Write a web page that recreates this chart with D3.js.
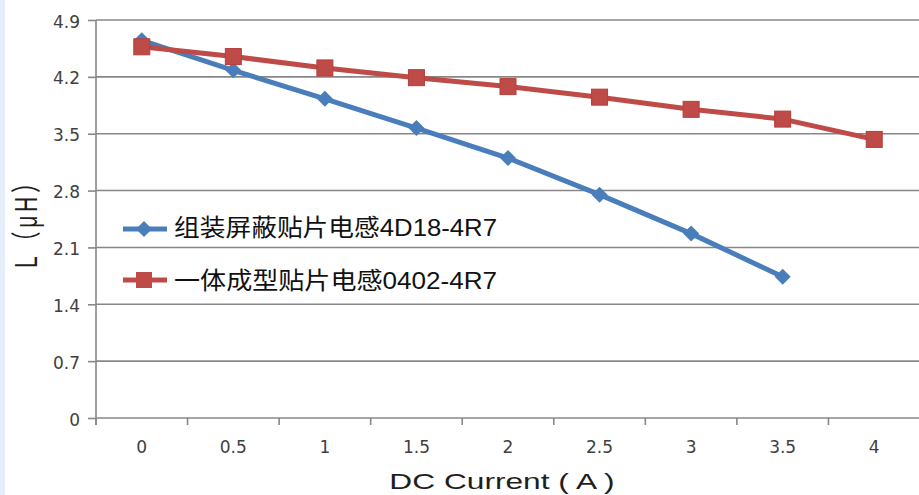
<!DOCTYPE html>
<html>
<head>
<meta charset="utf-8">
<script src="https://cdn.jsdelivr.net/npm/d3@7"></script>
<style>
  html, body { margin: 0; padding: 0; background: #ffffff; }
  svg { display: block; }
</style>
</head>
<body>
<svg id="chart" width="919" height="495"></svg>
<script>
// DC bias current (A) along the category axis
const currents = ["0", "0.5", "1", "1.5", "2", "2.5", "3", "3.5", "4"];
// Inductance (μH) of each part vs current
const shieldedL = [4.65, 4.28, 3.93, 3.57, 3.20, 2.75, 2.27, 1.74];
const moldedL = [4.57, 4.45, 4.31, 4.19, 4.08, 3.95, 3.80, 3.68, 3.43];
const seriesNames = ["组装屏蔽贴片电感4D18-4R7", "一体成型贴片电感0402-4R7"];
const yTicks = [0, 0.7, 1.4, 2.1, 2.8, 3.5, 4.2, 4.9];
const yTickLabels = ["0", "0.7", "1.4", "2.1", "2.8", "3.5", "4.2", "4.9"];
const xTitle = "DC Current ( A )";
const yTitle = "L（μH）";

const svg = d3.select("#chart");
const W = 919, H = 495;
const plot = { left: 96, right: 920, top: 20, bottom: 418 };

const x = d3.scaleBand().domain(currents).range([plot.left, plot.right]).padding(0);
const y = d3.scaleLinear().domain([0, 4.9]).range([plot.bottom, plot.top]);
const cx = d => x(d) + x.bandwidth() / 2;

const gridColor = "#878787";
const blue = "#4a7ebb";
const red = "#be4b48";

// page background with a pale strip on the left edge
svg.append("rect").attr("width", W).attr("height", H).attr("fill", "#ffffff");
svg.append("rect").attr("width", 5).attr("height", H).attr("fill", "#e6eff9");

// horizontal gridlines
svg.append("g").selectAll("line").data(yTicks).join("line")
  .attr("x1", plot.left).attr("x2", W)
  .attr("y1", d => y(d)).attr("y2", d => y(d))
  .attr("stroke", gridColor).attr("stroke-width", 1.6);

// y axis with ticks on the left
const yAxis = d3.axisLeft(y).tickValues(yTicks)
  .tickFormat((d, i) => yTickLabels[i]).tickSize(8).tickPadding(8);
const gy = svg.append("g").attr("transform", `translate(${plot.left},0)`).call(yAxis);
gy.select(".domain").remove();
gy.selectAll(".tick line").attr("stroke", gridColor).attr("stroke-width", 1.6);
gy.selectAll(".tick text")
  .attr("font-family", "'DejaVu Sans', sans-serif").attr("font-size", 17)
  .attr("fill", "#404040").attr("dy", "0.42em");
svg.append("line")
  .attr("x1", plot.left).attr("x2", plot.left)
  .attr("y1", plot.top).attr("y2", plot.bottom + 7)
  .attr("stroke", gridColor).attr("stroke-width", 1.6);

// x axis: ticks sit between categories, labels at their centres
const xBoundaries = currents.map(c => x(c));
svg.append("g").selectAll("line").data(xBoundaries).join("line")
  .attr("x1", d => d).attr("x2", d => d)
  .attr("y1", plot.bottom).attr("y2", plot.bottom + 7)
  .attr("stroke", gridColor).attr("stroke-width", 1.6);
svg.append("g").selectAll("text").data(currents).join("text")
  .attr("x", d => cx(d)).attr("y", 453)
  .attr("text-anchor", "middle")
  .attr("font-family", "'DejaVu Sans', sans-serif").attr("font-size", 17)
  .attr("fill", "#404040")
  .text(d => d);

// axis titles (drawn wide, as in the original sheet)
svg.append("text")
  .attr("transform", `translate(502,489) scale(1.44,1)`)
  .attr("text-anchor", "middle")
  .attr("font-family", "'Liberation Sans', 'Noto Sans CJK SC', sans-serif")
  .attr("font-size", 22).attr("fill", "#1e1e1e")
  .text(xTitle);
svg.append("text")
  .attr("transform", `translate(37,220) scale(1.45,1) rotate(-90)`)
  .attr("text-anchor", "middle")
  .attr("font-family", "'Liberation Sans', 'Noto Sans CJK SC', sans-serif")
  .attr("font-size", 21).attr("fill", "#1e1e1e")
  .attr("textLength", 96).attr("lengthAdjust", "spacing")
  .text(yTitle);

// series lines and markers
const line = d3.line().x((d, i) => cx(currents[i])).y(d => y(d));
const diamond = (s) => `M0,${-s}L${s},0L0,${s}L${-s},0Z`;

const series = [
  { name: seriesNames[0], values: shieldedL, color: blue, marker: "diamond" },
  { name: seriesNames[1], values: moldedL, color: red, marker: "square" }
];

series.forEach(s => {
  const g = svg.append("g");
  g.append("path").datum(s.values)
    .attr("d", line).attr("fill", "none")
    .attr("stroke", s.color).attr("stroke-width", 5)
    .attr("stroke-linejoin", "round");
  const pts = g.selectAll("g.pt").data(s.values).join("g")
    .attr("transform", (d, i) => `translate(${cx(currents[i])},${y(d)})`);
  if (s.marker === "diamond") {
    pts.append("path").attr("d", diamond(8)).attr("fill", s.color);
  } else {
    pts.append("rect").attr("x", -8).attr("y", -8)
      .attr("width", 16).attr("height", 16)
      .attr("fill", s.color).attr("stroke", "#b53f3c").attr("stroke-width", 1);
  }
});

// legend inside the plot area
const legend = svg.append("g");
const legendRows = [
  { s: series[0], y: 229, base: 236 },
  { s: series[1], y: 280, base: 289 }
];
legendRows.forEach(r => {
  legend.append("line")
    .attr("x1", 123).attr("x2", 167).attr("y1", r.y).attr("y2", r.y)
    .attr("stroke", r.s.color).attr("stroke-width", 5);
  if (r.s.marker === "diamond") {
    legend.append("path").attr("transform", `translate(144,${r.y})`)
      .attr("d", diamond(8)).attr("fill", r.s.color);
  } else {
    legend.append("rect").attr("x", 144 - 8).attr("y", r.y - 8)
      .attr("width", 16).attr("height", 16).attr("fill", r.s.color);
  }
  legend.append("text")
    .attr("x", 174).attr("y", r.base)
    .attr("font-family", "'Liberation Sans', 'Noto Sans CJK SC', sans-serif")
    .attr("font-size", 24).attr("fill", "#111111")
    .attr("textLength", 323).attr("lengthAdjust", "spacingAndGlyphs")
    .text(r.s.name);
});
</script>
</body>
</html>
